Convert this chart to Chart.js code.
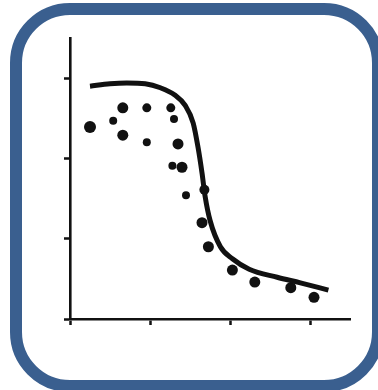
<!DOCTYPE html>
<html>
<head>
<meta charset="utf-8">
<script src="https://cdn.jsdelivr.net/npm/chart.js@4"></script>
<style>
  html, body { margin: 0; padding: 0; background: #fff; }
  body { width: 378px; height: 390px; position: relative; overflow: hidden; }
  #frame {
    position: absolute; left: 10px; top: 3px; width: 350px; height: 365px;
    border: 12px solid #3a5f8f; border-radius: 60px; background: #fff;
  }
  #wrap { position: absolute; left: 0; top: 0; width: 378px; height: 390px; }
</style>
</head>
<body>
<div id="frame"></div>
<div id="wrap"><canvas id="chart" width="378" height="390"></canvas></div>
<script>
// Measured response (dots)
const obsX = [0.25, 0.54, 0.66, 0.66, 0.96, 0.96, 1.26, 1.30, 1.35, 1.28, 1.40, 1.45, 1.68, 1.65, 1.73, 2.03, 2.31, 2.76, 3.05];
const obsY = [2.39, 2.47, 2.63, 2.29, 2.63, 2.20, 2.63, 2.49, 2.18, 1.91, 1.89, 1.54, 1.61, 1.20, 0.90, 0.61, 0.46, 0.39, 0.27];

// Fitted curve
const fitX = [0.25, 0.50, 0.71, 0.94, 1.13, 1.31, 1.44, 1.54, 1.60, 1.65, 1.69, 1.75, 1.88, 2.03, 2.24, 2.59, 2.88, 3.23];
const fitY = [2.90, 2.93, 2.94, 2.93, 2.88, 2.79, 2.66, 2.44, 2.14, 1.82, 1.52, 1.23, 0.90, 0.75, 0.62, 0.52, 0.45, 0.36];

// Axis tick positions
const xTicks = [0, 1, 2, 3];
const yTicks = [0, 1, 2, 3];

// Dot radii (marker styling)
const dotRadius = [6, 4, 5.5, 5.5, 4.5, 4, 4.5, 4, 5.5, 4, 5.5, 4, 5, 5.5, 5.5, 5.5, 5.5, 5.5, 5.5];

const ink = '#111111';

const axisStyle = (ticks) => ({
  type: 'linear',
  min: 0,
  max: 3.5,
  afterBuildTicks: (scale) => { scale.ticks = ticks.map(v => ({ value: v })); },
  ticks: { display: false },
  grid: { drawOnChartArea: false, drawTicks: true, tickLength: 6, tickWidth: 2.5, color: ink },
  border: { display: true, color: ink, width: 2.6 }
});

new Chart(document.getElementById('chart'), {
  type: 'scatter',
  data: {
    datasets: [
      {
        label: 'fit',
        data: fitX.map((x, i) => ({ x, y: fitY[i] })),
        showLine: true,
        borderColor: ink,
        borderWidth: 5,
        cubicInterpolationMode: 'monotone',
        pointRadius: 0,
        borderCapStyle: 'butt'
      },
      {
        label: 'observed',
        data: obsX.map((x, i) => ({ x, y: obsY[i] })),
        backgroundColor: ink,
        borderWidth: 0,
        pointRadius: dotRadius
      }
    ]
  },
  options: {
    responsive: false,
    animation: false,
    events: [],
    layout: { padding: { left: 64, right: 28, top: 38, bottom: 65 } },
    plugins: { legend: { display: false }, tooltip: { enabled: false } },
    scales: {
      x: axisStyle(xTicks),
      y: axisStyle(yTicks)
    }
  }
});
</script>
</body>
</html>
